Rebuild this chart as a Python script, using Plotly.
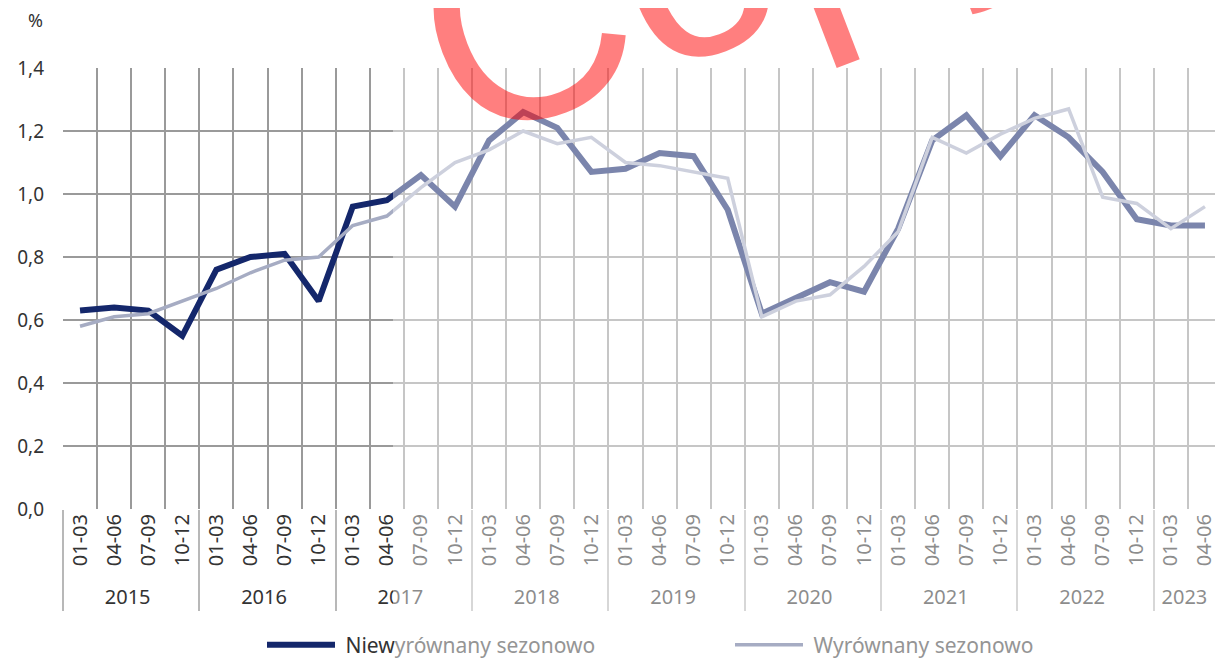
import plotly.graph_objects as go

years = (["2015"] * 4 + ["2016"] * 4 + ["2017"] * 4 + ["2018"] * 4 +
         ["2019"] * 4 + ["2020"] * 4 + ["2021"] * 4 + ["2022"] * 4 + ["2023"] * 2)
quarters = ["01-03", "04-06", "07-09", "10-12"] * 8 + ["01-03", "04-06"]

unadjusted = [0.63, 0.64, 0.63, 0.55,
              0.76, 0.80, 0.81, 0.66,
              0.96, 0.98, 1.06, 0.96,
              1.17, 1.26, 1.21, 1.07,
              1.08, 1.13, 1.12, 0.95,
              0.62, 0.67, 0.72, 0.69,
              0.89, 1.17, 1.25, 1.12,
              1.25, 1.18, 1.07, 0.92,
              0.90, 0.90]
adjusted = [0.58, 0.61, 0.62, 0.66,
            0.70, 0.75, 0.79, 0.80,
            0.90, 0.93, 1.02, 1.10,
            1.14, 1.20, 1.16, 1.18,
            1.10, 1.09, 1.07, 1.05,
            0.61, 0.66, 0.68, 0.77,
            0.88, 1.18, 1.13, 1.19,
            1.24, 1.27, 0.99, 0.97,
            0.89, 0.96]

name_unadj = "&nbsp;Niew<span style='color:#959595'>yrównany sezonowo</span>"
name_adj = "&nbsp;<span style='color:#959595'>Wyrównany sezonowo</span>"

FONT = "Noto Sans"
OFF = 8  # page offset of the plot div (body margin)
W, H = 1223 - OFF, 660 - OFF
L, R, T = 63 - OFF, 1, 68 - OFF
B = H - (509 - OFF)
pw, ph = W - L - R, H - T - B


def px_x(x):  # page pixel -> paper x
    return (x - OFF - L) / pw


def px_y(y):  # page pixel -> paper y
    return (H - B - (y - OFF)) / ph


fig = go.Figure()
fig.add_trace(go.Scatter(x=[years, quarters], y=unadjusted, mode="lines",
                         name=name_unadj,
                         line=dict(color="#14276b", width=6)))
fig.add_trace(go.Scatter(x=[years, quarters], y=adjusted, mode="lines",
                         name=name_adj,
                         line=dict(color="#a6acc3", width=3.5)))

n = len(quarters)
fig.update_layout(
    width=W, height=H,
    margin=dict(l=L, r=R, t=T, b=B, pad=0),
    paper_bgcolor="white", plot_bgcolor="white",
    separators=", ",
    font=dict(family=FONT, size=19, color="#333333"),
    showlegend=True,
    legend=dict(orientation="h", x=px_x(262), xanchor="left",
                yref="container", y=(H - (645 - OFF)) / H, yanchor="middle",
                font=dict(family=FONT, size=21, color="#333333"),
                itemwidth=68, entrywidth=385, entrywidthmode="pixels",
                bgcolor="rgba(0,0,0,0)"),
    xaxis=dict(type="multicategory", tickangle=-90, tickson="boundaries",
               range=[-0.5, n - 0.5],
               showgrid=True, gridcolor="#9a9a9a", gridwidth=1.5,
               showdividers=True, dividercolor="#b8b8b8", dividerwidth=1.5,
               ticks="", showline=False, zeroline=False, automargin=False,
               tickfont=dict(family=FONT, size=20, color="#333333")),
    yaxis=dict(range=[0, 1.4], dtick=0.2, tickformat=".1f",
               showgrid=True, gridcolor="#9a9a9a", gridwidth=1.5,
               zeroline=False, showline=False, ticks="", automargin=False,
               ticklabelstandoff=18,
               tickfont=dict(family=FONT, size=19, color="#333333")),
    shapes=[dict(type="rect", xref="paper", yref="paper",
                 x0=px_x(393), x1=px_x(1240), y0=px_y(700), y1=px_y(-40),
                 fillcolor="rgba(255,255,255,0.44)", line=dict(width=0),
                 layer="above")],
    annotations=[
        dict(text="%", xref="paper", yref="paper", x=px_x(35), y=px_y(20),
             showarrow=False, xanchor="center", yanchor="middle",
             font=dict(family=FONT, size=18, color="#333333")),
        dict(text="Copy", xref="paper", yref="paper", x=px_x(735), y=px_y(-58),
             showarrow=False, xanchor="center", yanchor="middle", textangle=-21,
             font=dict(family="Liberation Sans", size=280,
                       color="rgba(255,0,0,0.5)")),
    ],
)

fig.write_html("out.html")
